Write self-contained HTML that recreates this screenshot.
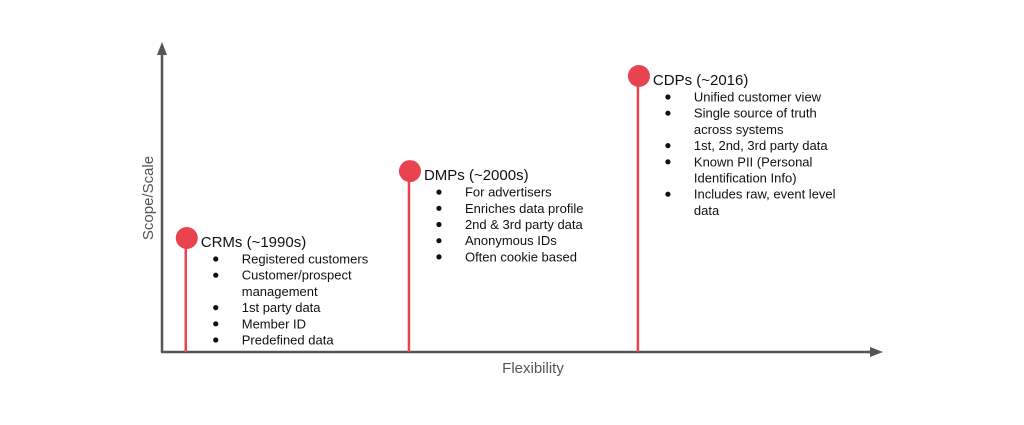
<!DOCTYPE html>
<html><head><meta charset="utf-8"><style>
html,body{margin:0;padding:0;background:#fff;}
svg{display:block;font-family:"Liberation Sans",Arial,sans-serif;}
</style></head><body>
<svg id="chart" width="1024" height="425" viewBox="0 0 1024 425">
  <g id="axes">
    <line x1="162" y1="352" x2="162" y2="52" stroke="#555" stroke-width="2.5"/>
    <polygon points="162,42 157,55 167,55" fill="#555"/>
    <line x1="161" y1="352" x2="872" y2="352" stroke="#555" stroke-width="2.5"/>
    <polygon points="883,352 870,347 870,357" fill="#555"/>
    <text x="533" y="373" text-anchor="middle" font-size="15" fill="#555">Flexibility</text>
    <text x="0" y="0" transform="translate(153,198) rotate(-90)" text-anchor="middle" font-size="15" fill="#555">Scope/Scale</text>
  </g>
  <g id="marks"></g>
</svg>
<script>
const eraTitles = ["CRMs (~1990s)", "DMPs (~2000s)", "CDPs (~2016)"];
const flexibility = [3.3, 34.3, 66.1];
const scope = [38, 60.3, 92];
const eraBullets = [
  [["Registered customers"], ["Customer/prospect", "management"], ["1st party data"], ["Member ID"], ["Predefined data"]],
  [["For advertisers"], ["Enriches data profile"], ["2nd & 3rd party data"], ["Anonymous IDs"], ["Often cookie based"]],
  [["Unified customer view"], ["Single source of truth", "across systems"], ["1st, 2nd, 3rd party data"], ["Known PII (Personal", "Identification Info)"], ["Includes raw, event level", "data"]]
];
const NS = "http://www.w3.org/2000/svg";
const xScale = v => 162 + v * 7.2;
const yScale = v => 352 - v * 3;
const g = document.getElementById("marks");
function mk(tag, attrs) { const e = document.createElementNS(NS, tag); for (const k in attrs) e.setAttribute(k, attrs[k]); g.appendChild(e); return e; }
eraTitles.forEach((title, i) => {
  const x = xScale(flexibility[i]), y = yScale(scope[i]);
  const stem = mk("line", {x1: x, y1: y, x2: x, y2: 352, stroke: "#e8434f", "stroke-width": 2.5});
  
  
  const dot = mk("circle", {cx: x + 1, cy: y, r: 11, fill: "#e8434f"});
  
  
  const t = mk("text", {x: x + 15, y: y + 9, "font-size": 15, fill: "#111"});
  t.textContent = title;
  
  
  let ly = y + 21;
  eraBullets[i].forEach(lines => {
    const b = mk("circle", {cx: x + 30, cy: ly, r: 2.6, fill: "#111"});
    
    
    lines.forEach(line => {
      const tt = mk("text", {x: x + 56, y: ly + 4.5, "font-size": 13, fill: "#111"});
      tt.textContent = line;
      
      
      ly += 16.2;
    });
  });
});
</script>
</body></html>
